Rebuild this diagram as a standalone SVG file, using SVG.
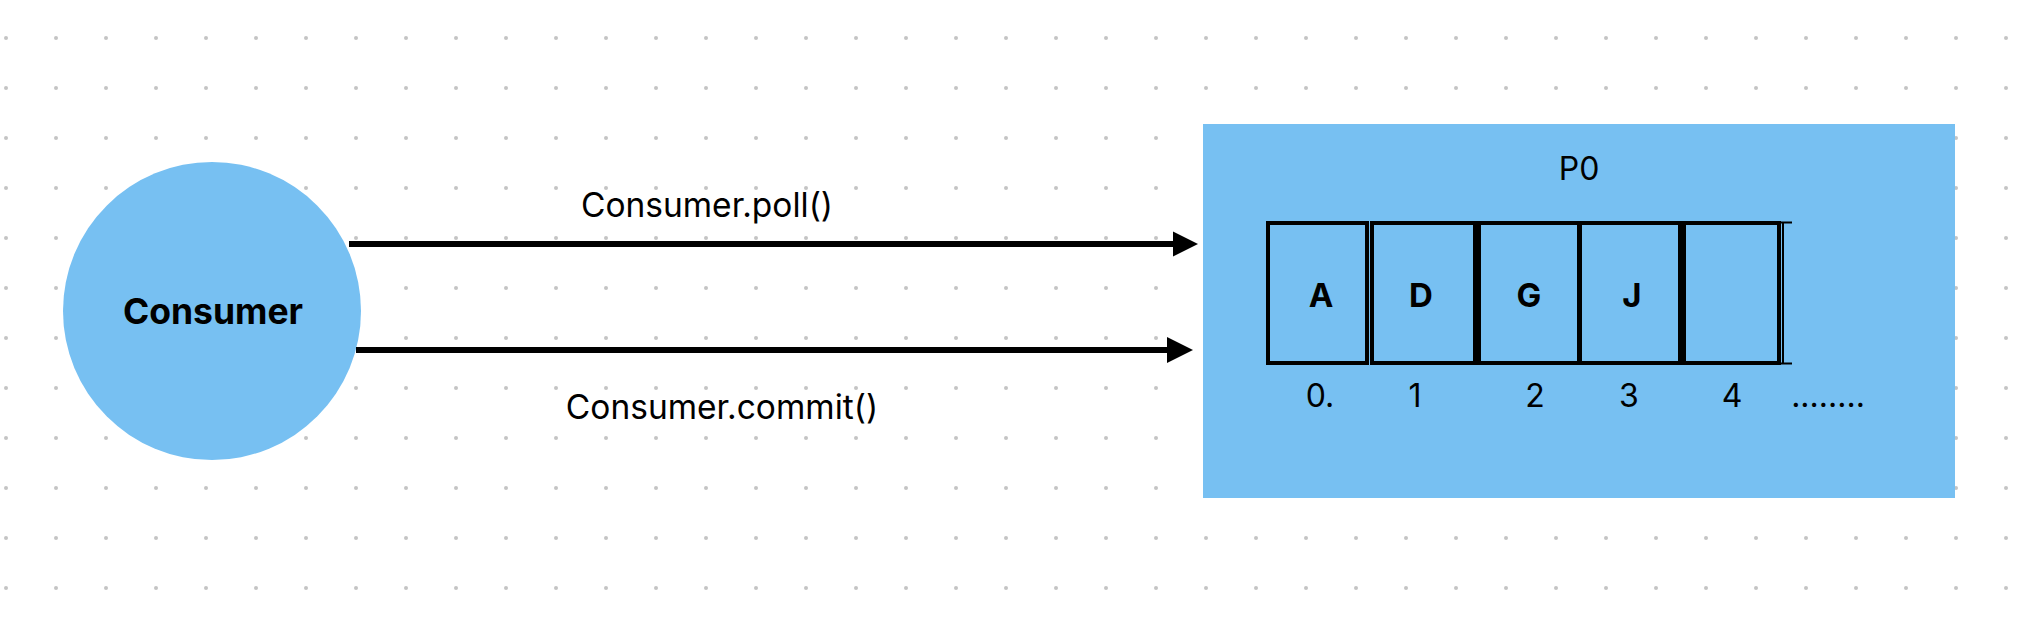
<svg xmlns="http://www.w3.org/2000/svg" width="2034" height="634" viewBox="0 0 2034 634">
  <defs>
    <pattern id="dots" patternUnits="userSpaceOnUse" x="-19" y="13" width="50" height="50">
      <circle cx="25" cy="25" r="2" fill="#c4c4c4"/>
    </pattern>
    <style>
      .t { font-family: Inter, "Liberation Sans", sans-serif; fill: #000; }
      .lbl { font-size: 32px; text-anchor: middle; }
      .bold { font-weight: bold; }
      .cell { fill: none; stroke: #000; stroke-width: 4; }
      .conn { stroke: #000; stroke-width: 6; fill: none; }
      .blue { fill: #77C0F2; }
    </style>
  </defs>
  <rect width="2034" height="634" fill="#ffffff"/>
  <rect width="2034" height="634" fill="url(#dots)"/>

  <g id="consumer">
    <circle class="blue" cx="212" cy="311" r="149"/>
    <text class="t lbl bold" x="213" y="324" style="font-size:35.5px">Consumer</text>
  </g>

  <g id="p0">
    <rect class="blue" x="1203" y="124" width="752" height="374"/>
    <text class="t lbl" x="1579" y="180">P0</text>
    <g id="cells">
      <rect class="cell" x="1268" y="223" width="99" height="140"/>
      <rect class="cell" x="1372" y="223" width="103" height="140"/>
      <rect class="cell" x="1479" y="223" width="100" height="140"/>
      <rect class="cell" x="1580" y="223" width="100" height="140"/>
      <rect class="cell" x="1684" y="223" width="95" height="140"/>
      <path d="M1781,222.5 H1792 M1781,363.5 H1792 M1783,223 V363" stroke="#000" stroke-width="2" fill="none"/>
    </g>
    <g class="t bold" text-anchor="middle" style="font-size:33px">
      <text x="1321" y="307">A</text>
      <text x="1421" y="307">D</text>
      <text x="1529" y="307">G</text>
      <text x="1632" y="307">J</text>
    </g>
    <g class="t lbl">
      <text x="1320" y="407">0.</text>
      <text x="1415" y="407">1</text>
      <text x="1535" y="407">2</text>
      <text x="1629" y="407">3</text>
      <text x="1732" y="407">4</text>
      <text x="1828" y="407">........</text>
    </g>
  </g>

  <g id="connectors">
    <line class="conn" x1="349" y1="244" x2="1175" y2="244"/>
    <polygon points="1173,231.5 1198,244 1173,256.5" fill="#000"/>
    <line class="conn" x1="356" y1="350" x2="1169" y2="350"/>
    <polygon points="1167,337 1193,350 1167,363" fill="#000"/>
    <text class="t lbl" x="707" y="217" style="font-size:33.5px">Consumer.poll()</text>
    <text class="t lbl" x="722" y="419" style="font-size:33.5px">Consumer.commit()</text>
  </g>
</svg>
